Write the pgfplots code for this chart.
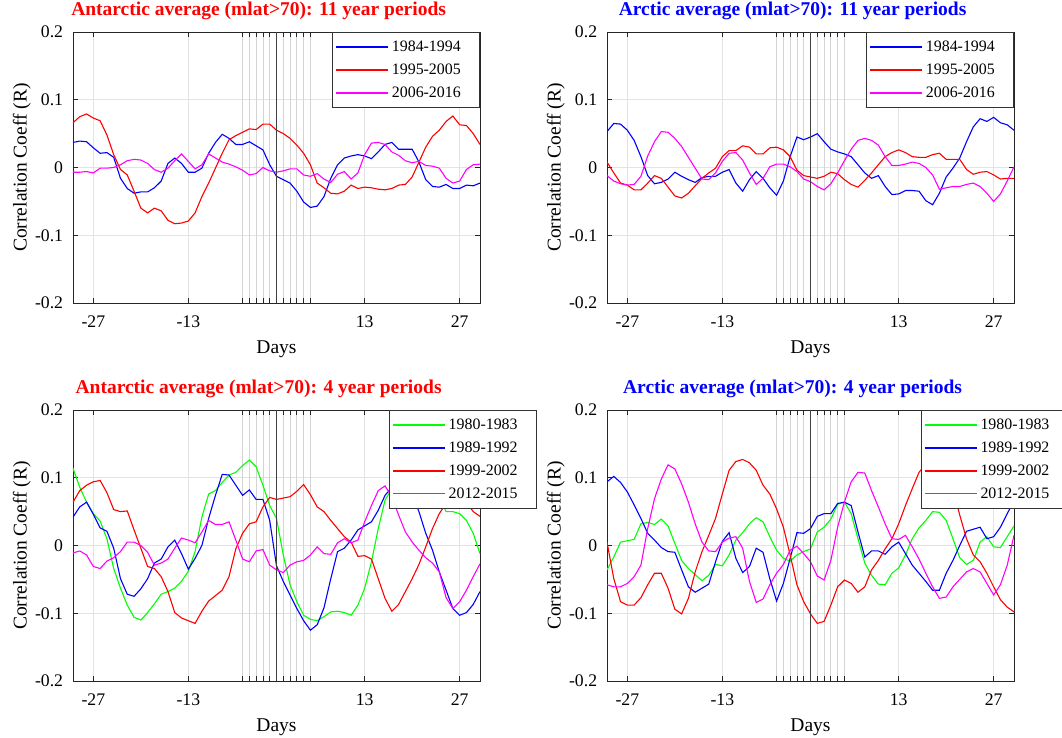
\documentclass[border=0pt]{standalone}
\usepackage{fontspec}
\setmainfont{Liberation Serif}
\usepackage{pgfplots}
\usepackage{pgfplotstable}
\pgfplotsset{compat=1.18}

% Antarctic, 11 year periods
\pgfplotstableread{
d b r m
-30 0.037 0.066 -0.007
-29 0.039 0.075 -0.007
-28 0.038 0.079 -0.006
-27 0.029 0.073 -0.008
-26 0.021 0.069 -0.001
-25 0.022 0.048 -0.001
-24 0.015 0.019 0.000
-23 -0.016 -0.003 0.004
-22 -0.031 -0.011 0.010
-21 -0.038 -0.035 0.012
-20 -0.036 -0.060 0.011
-19 -0.036 -0.067 0.006
-18 -0.030 -0.060 -0.003
-17 -0.020 -0.064 -0.007
-16 0.006 -0.078 -0.001
-15 0.014 -0.083 0.010
-14 0.006 -0.082 0.020
-13 -0.007 -0.079 0.009
-12 -0.007 -0.067 -0.002
-11 -0.001 -0.043 0.004
-10 0.021 -0.023 0.020
-9 0.037 -0.001 0.014
-8 0.049 0.021 0.008
-7 0.043 0.041 0.005
-6 0.034 0.047 0.001
-5 0.034 0.052 -0.004
-4 0.038 0.057 -0.011
-3 0.032 0.056 -0.009
-2 0.026 0.064 0.000
-1 0.004 0.064 -0.005
0 -0.013 0.055 -0.007
1 -0.018 0.050 -0.005
2 -0.023 0.043 -0.002
3 -0.035 0.033 -0.002
4 -0.051 0.021 -0.011
5 -0.059 0.004 -0.013
6 -0.057 -0.023 -0.009
7 -0.043 -0.030 -0.017
8 -0.016 -0.038 -0.022
9 0.004 -0.039 -0.010
10 0.014 -0.035 -0.006
11 0.017 -0.026 -0.017
12 0.019 -0.031 -0.008
13 0.017 -0.029 0.019
14 0.013 -0.030 0.036
15 0.023 -0.032 0.037
16 0.034 -0.033 0.034
17 0.037 -0.031 0.023
18 0.027 -0.026 0.018
19 0.027 -0.025 0.010
20 0.027 -0.014 0.007
21 0.008 0.008 0.009
22 -0.018 0.030 0.003
23 -0.028 0.046 0.002
24 -0.029 0.055 -0.001
25 -0.025 0.068 -0.016
26 -0.031 0.076 -0.023
27 -0.031 0.063 -0.020
28 -0.026 0.062 -0.003
29 -0.027 0.050 0.004
30 -0.023 0.034 0.005
}\tA

% Arctic, 11 year periods
\pgfplotstableread{
d b r m
-30 0.053 0.008 -0.012
-29 0.065 -0.008 -0.020
-28 0.064 -0.023 -0.024
-27 0.055 -0.026 -0.026
-26 0.040 -0.033 -0.025
-25 0.016 -0.033 -0.013
-24 -0.012 -0.023 0.017
-23 -0.024 -0.012 0.038
-22 -0.022 -0.016 0.053
-21 -0.017 -0.029 0.052
-20 -0.007 -0.042 0.043
-19 -0.013 -0.045 0.031
-18 -0.018 -0.038 0.015
-17 -0.022 -0.027 -0.001
-16 -0.015 -0.016 -0.017
-15 -0.013 -0.008 -0.018
-14 -0.013 -0.001 -0.008
-13 -0.007 0.016 0.009
-12 -0.003 0.025 0.021
-11 -0.023 0.025 0.022
-10 -0.035 0.032 0.011
-9 -0.018 0.030 -0.008
-8 -0.006 0.020 -0.025
-7 -0.016 0.020 -0.016
-6 -0.030 0.029 0.001
-5 -0.041 0.030 0.005
-4 -0.020 0.026 0.005
-3 0.016 0.016 0.001
-2 0.045 -0.004 -0.006
-1 0.041 -0.012 -0.017
0 0.045 -0.014 -0.021
1 0.050 -0.016 -0.028
2 0.038 -0.013 -0.033
3 0.027 -0.007 -0.024
4 0.023 -0.009 -0.008
5 0.020 -0.018 0.010
6 0.016 -0.025 0.027
7 0.004 -0.029 0.040
8 -0.008 -0.019 0.043
9 -0.016 -0.008 0.040
10 -0.012 0.004 0.033
11 -0.028 0.016 0.016
12 -0.040 0.022 0.003
13 -0.039 0.026 0.003
14 -0.034 0.022 0.005
15 -0.034 0.016 0.008
16 -0.035 0.015 0.006
17 -0.049 0.015 0.000
18 -0.055 0.019 -0.011
19 -0.038 0.021 -0.032
20 -0.014 0.012 -0.030
21 -0.001 0.012 -0.028
22 0.014 0.012 -0.028
23 0.038 -0.003 -0.025
24 0.060 -0.010 -0.023
25 0.072 -0.007 -0.028
26 0.068 -0.006 -0.038
27 0.074 -0.011 -0.050
28 0.066 -0.017 -0.039
29 0.063 -0.016 -0.020
30 0.055 -0.016 0.001
}\tB

% Antarctic, 4 year periods
\pgfplotstableread{
d g b r m
-30 0.114 0.042 0.064 -0.011
-29 0.086 0.057 0.081 -0.008
-28 0.064 0.064 0.089 -0.014
-27 0.047 0.046 0.094 -0.031
-26 0.036 0.026 0.096 -0.034
-25 0.010 0.021 0.078 -0.023
-24 -0.034 -0.004 0.053 -0.018
-23 -0.063 -0.049 0.050 -0.009
-22 -0.088 -0.072 0.051 0.005
-21 -0.106 -0.075 0.023 0.005
-20 -0.110 -0.064 -0.004 0.000
-19 -0.099 -0.049 -0.031 -0.010
-18 -0.086 -0.026 -0.034 -0.029
-17 -0.072 -0.020 -0.046 -0.026
-16 -0.068 -0.002 -0.068 -0.020
-15 -0.063 0.008 -0.099 -0.004
-14 -0.053 -0.012 -0.107 0.011
-13 -0.038 -0.035 -0.111 0.008
-12 -0.009 -0.019 -0.115 0.004
-11 0.042 0.000 -0.097 0.020
-10 0.076 0.040 -0.082 0.037
-9 0.081 0.074 -0.074 0.031
-8 0.093 0.105 -0.066 0.031
-7 0.104 0.104 -0.046 0.035
-6 0.108 0.089 -0.005 0.008
-5 0.118 0.074 0.018 -0.020
-4 0.126 0.082 0.032 -0.024
-3 0.116 0.068 0.035 -0.008
-2 0.089 0.068 0.057 -0.006
-1 0.059 0.037 0.071 -0.029
0 0.040 -0.030 0.068 -0.036
1 -0.014 -0.053 0.070 -0.040
2 -0.058 -0.073 0.072 -0.029
3 -0.083 -0.093 0.080 -0.024
4 -0.103 -0.111 0.090 -0.022
5 -0.109 -0.125 0.075 -0.014
6 -0.111 -0.117 0.057 -0.002
7 -0.105 -0.092 0.050 -0.012
8 -0.098 -0.049 0.037 -0.013
9 -0.097 -0.009 0.025 0.004
10 -0.099 -0.004 0.013 0.010
11 -0.103 0.008 0.005 0.004
12 -0.088 0.023 -0.016 0.008
13 -0.063 0.029 -0.015 0.035
14 -0.024 0.035 -0.020 0.059
15 0.025 0.052 -0.049 0.081
16 0.067 0.074 -0.078 0.088
17 0.084 0.086 -0.097 0.072
18 0.095 0.090 -0.087 0.045
19 0.100 0.088 -0.068 0.020
20 0.100 0.075 -0.049 0.005
21 0.098 0.050 -0.028 -0.007
22 0.092 0.018 -0.002 -0.018
23 0.085 -0.007 0.025 -0.026
24 0.072 -0.039 0.047 -0.039
25 0.050 -0.066 0.062 -0.077
26 0.050 -0.093 0.072 -0.093
27 0.047 -0.103 0.072 -0.083
28 0.037 -0.099 0.064 -0.066
29 0.018 -0.087 0.050 -0.046
30 -0.012 -0.068 0.043 -0.027
}\tC

% Arctic, 4 year periods
\pgfplotstableread{
d g b r m
-30 -0.036 0.094 0.005 -0.058
-29 -0.017 0.102 -0.049 -0.061
-28 0.005 0.093 -0.083 -0.061
-27 0.007 0.079 -0.088 -0.056
-26 0.009 0.060 -0.088 -0.046
-25 0.032 0.040 -0.077 -0.029
-24 0.034 0.018 -0.058 0.025
-23 0.031 0.008 -0.041 0.069
-22 0.039 -0.003 -0.041 0.098
-21 0.029 -0.009 -0.063 0.119
-20 0.003 -0.010 -0.094 0.113
-19 -0.022 -0.036 -0.101 0.091
-18 -0.034 -0.061 -0.078 0.064
-17 -0.043 -0.069 -0.039 0.032
-16 -0.052 -0.063 -0.009 0.005
-15 -0.044 -0.057 0.015 -0.008
-14 -0.028 -0.024 0.040 -0.009
-13 -0.030 0.006 0.076 0.005
-12 -0.014 0.019 0.111 0.011
-11 0.008 -0.019 0.124 0.013
-10 0.019 -0.040 0.127 -0.004
-9 0.032 -0.031 0.122 -0.053
-8 0.041 -0.004 0.111 -0.084
-7 0.035 -0.010 0.089 -0.079
-6 0.013 -0.049 0.076 -0.058
-5 -0.007 -0.082 0.054 -0.041
-4 -0.019 -0.056 0.027 -0.028
-3 -0.023 -0.019 -0.014 -0.007
-2 -0.014 0.019 -0.058 -0.001
-1 -0.009 0.018 -0.083 -0.012
0 -0.005 0.025 -0.101 -0.024
1 0.020 0.043 -0.115 -0.045
2 0.027 0.047 -0.112 -0.051
3 0.039 0.047 -0.088 -0.022
4 0.061 0.062 -0.061 0.027
5 0.064 0.064 -0.051 0.064
6 0.047 0.059 -0.056 0.094
7 0.010 0.020 -0.069 0.108
8 -0.026 -0.017 -0.061 0.107
9 -0.044 -0.008 -0.036 0.081
10 -0.057 -0.008 -0.022 0.057
11 -0.058 -0.013 -0.005 0.032
12 -0.041 -0.002 0.010 0.010
13 -0.033 0.005 0.032 0.009
14 -0.014 -0.012 0.059 0.015
15 0.010 -0.029 0.084 -0.002
16 0.026 -0.041 0.108 -0.020
17 0.037 -0.053 0.120 -0.041
18 0.050 -0.066 0.128 -0.061
19 0.049 -0.066 0.125 -0.078
20 0.037 -0.041 0.110 -0.076
21 0.010 -0.022 0.085 -0.061
22 -0.018 0.000 0.045 -0.050
23 -0.028 0.021 0.010 -0.039
24 -0.022 0.024 -0.014 -0.034
25 0.005 0.027 -0.024 -0.039
26 0.013 0.010 -0.041 -0.056
27 -0.002 0.013 -0.061 -0.073
28 -0.003 0.027 -0.080 -0.058
29 0.013 0.047 -0.091 -0.029
30 0.029 0.066 -0.098 0.015
}\tD

\definecolor{frame}{gray}{0.2}
\definecolor{mg}{rgb}{1,0,1}
\definecolor{gr}{rgb}{0,1,0}
\newcommand{\lab}[1]{\makebox[82pt][l]{#1}}

\pgfplotsset{
  lg/.style={color=#1, legend image code/.code={%
    \draw[line width=1.4pt, draw=#1] (0pt,0pt) -- (52pt,0pt);}},
  panel/.style={
    scale only axis, width=407pt, height=271pt,
    xmin=-30, xmax=30, ymin=-0.2, ymax=0.2,
    xtick={-27,-13,13,27}, xticklabels={-27,-13,13,27},
    ytick={-0.2,-0.1,0,0.1,0.2}, yticklabels={-0.2,-0.1,0,0.1,0.2},
    extra x ticks={-5,-4,-3,-2,-1,1,2,3,4,5}, extra x tick labels={},
    extra x tick style={grid=major, major grid style={draw=black!17, line width=0.8pt}},
    grid=major, major grid style={draw=black!11, line width=0.8pt},
    tick align=inside, xtick pos=both, ytick pos=both, major tick length=5pt,
    tick style={draw=black!85, line width=0.8pt},
    axis line style={draw=black!85, line width=0.9pt},
    ticklabel style={font=\fontsize{17.7}{20}\selectfont},
    yticklabel style={inner sep=0pt, anchor=east, xshift=-9.7pt},
    xticklabel style={inner sep=0pt, anchor=base, yshift=-25pt},
    xlabel={Days}, ylabel={Correlation Coeff (R)},
    label style={font=\fontsize{19.5}{22}\selectfont},
    xlabel style={at={(axis description cs:0.5,-0.188)}, anchor=base},
    ylabel style={at={(axis description cs:-0.114,0.5)}, anchor=base},
    title style={at={(axis description cs:0.456,1)}, anchor=base, yshift=10pt,
      font=\bfseries\fontsize{19.5}{22}\selectfont},
    legend cell align=left,
    legend style={draw=frame, line width=0.9pt, fill=white,
      font=\fontsize{15.9}{18}\selectfont, inner xsep=2.5pt, inner ysep=3.2pt,
      nodes={inner xsep=3.15pt, inner ysep=5.4pt}},
    every axis plot/.append style={line width=1.1pt},
  }
}

\begin{document}
\begin{tikzpicture}
\useasboundingbox (0,0) rectangle (1062pt,738pt);

% top left
\begin{axis}[panel, at={(73pt,435pt)}, anchor=south west,
  title={Antarctic average (mlat>70): 11 year periods}, title style={text=red},
  legend style={at={(1,1)}, anchor=north east}]
\addplot[lg=blue] table[x=d, y=b] {\tA};
\addlegendentry{\lab{1984-1994}}
\addplot[lg=red] table[x=d, y=r] {\tA};
\addlegendentry{\lab{1995-2005}}
\addplot[lg=mg] table[x=d, y=m] {\tA};
\addlegendentry{\lab{2006-2016}}
\addplot[black!75, line width=0.9pt, forget plot] coordinates {(0,-0.2) (0,0.2)};
\end{axis}

% top right
\begin{axis}[panel, at={(607pt,435pt)}, anchor=south west,
  title={Arctic average (mlat>70): 11 year periods}, title style={text=blue},
  legend style={at={(1,1)}, anchor=north east}]
\addplot[lg=blue] table[x=d, y=b] {\tB};
\addlegendentry{\lab{1984-1994}}
\addplot[lg=red] table[x=d, y=r] {\tB};
\addlegendentry{\lab{1995-2005}}
\addplot[lg=mg] table[x=d, y=m] {\tB};
\addlegendentry{\lab{2006-2016}}
\addplot[black!75, line width=0.9pt, forget plot] coordinates {(0,-0.2) (0,0.2)};
\end{axis}

% bottom left
\begin{axis}[panel, at={(73pt,57pt)}, anchor=south west,
  title={Antarctic average (mlat>70): 4 year periods}, title style={text=red},
  legend style={at={(0.777,1)}, anchor=north west}]
\addplot[lg=gr] table[x=d, y=g] {\tC};
\addlegendentry{\lab{1980-1983}}
\addplot[lg=blue] table[x=d, y=b] {\tC};
\addlegendentry{\lab{1989-1992}}
\addplot[lg=red] table[x=d, y=r] {\tC};
\addlegendentry{\lab{1999-2002}}
\addplot[lg=mg] table[x=d, y=m] {\tC};
\addlegendentry{\lab{2012-2015}}
\addplot[black!75, line width=0.9pt, forget plot] coordinates {(0,-0.2) (0,0.2)};
\end{axis}

% bottom right
\begin{axis}[panel, at={(607pt,57pt)}, anchor=south west,
  title={Arctic average (mlat>70): 4 year periods}, title style={text=blue},
  legend style={at={(0.7715,1)}, anchor=north west}]
\addplot[lg=gr] table[x=d, y=g] {\tD};
\addlegendentry{\lab{1980-1983}}
\addplot[lg=blue] table[x=d, y=b] {\tD};
\addlegendentry{\lab{1989-1992}}
\addplot[lg=red] table[x=d, y=r] {\tD};
\addlegendentry{\lab{1999-2002}}
\addplot[lg=mg] table[x=d, y=m] {\tD};
\addlegendentry{\lab{2012-2015}}
\addplot[black!75, line width=0.9pt, forget plot] coordinates {(0,-0.2) (0,0.2)};
\end{axis}
\end{tikzpicture}
\end{document}
